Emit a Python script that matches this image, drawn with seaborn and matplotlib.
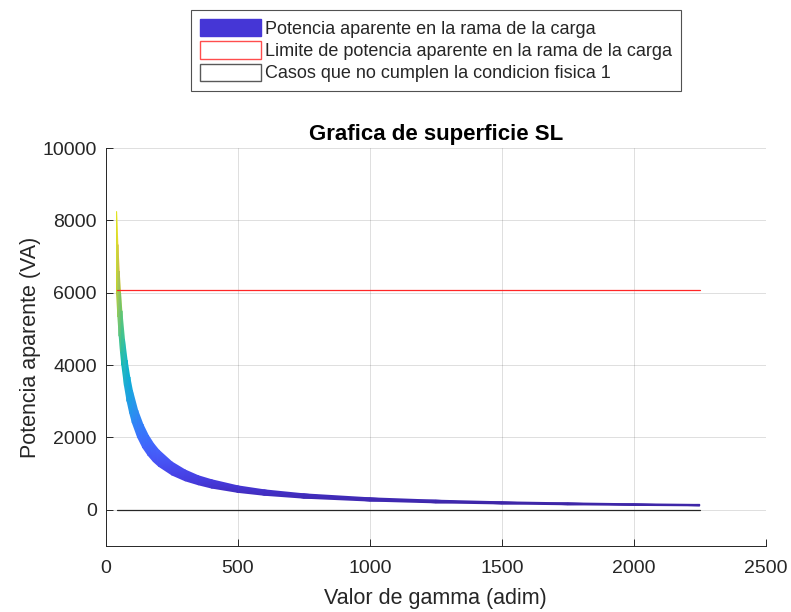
import numpy as np
import pandas as pd
import matplotlib
matplotlib.use("Agg")
import matplotlib.pyplot as plt
from matplotlib.colors import ListedColormap
from matplotlib.patches import Patch
import seaborn as sns

# ---- data ----
gamma = [40, 45, 50, 55, 60, 70, 80, 90, 100, 120, 140, 160, 180, 200, 250, 300,
         350, 400, 500, 600, 750, 1000, 1250, 1500, 1750, 2000, 2250]
s_upper = [8250, 7330, 6600, 6000, 5500, 4710, 4130, 3670, 3300, 2750, 2360, 2060,
           1830, 1650, 1320, 1100, 940, 830, 660, 550, 440, 330, 265, 220, 190, 165, 147]
s_lower = [6000, 5330, 4800, 4360, 4000, 3430, 3000, 2670, 2400, 2000, 1710, 1500,
           1330, 1200, 960, 800, 690, 600, 480, 400, 320, 240, 190, 160, 137, 120, 107]
limit_x = [40, 2250]
limit_y = [6070, 6070]
fail_x = [40, 2250]
fail_y = [0, 0]

title = "Grafica de superficie SL"
xlabel = "Valor de gamma (adim)"
ylabel = "Potencia aparente (VA)"
legend_labels = ["Potencia aparente en la rama de la carga",
                 "Limite de potencia aparente en la rama de la carga",
                 "Casos que no cumplen la condicion fisica 1"]
xticks = [0, 500, 1000, 1500, 2000, 2500]
yticks = [0, 2000, 4000, 6000, 8000, 10000]

parula_data = [
[0.2422,0.1504,0.6603],[0.2504,0.1650,0.7076],[0.2578,0.1818,0.7511],[0.2647,0.1978,0.7952],
[0.2706,0.2147,0.8364],[0.2751,0.2342,0.8710],[0.2783,0.2559,0.8991],[0.2803,0.2782,0.9221],
[0.2813,0.3006,0.9414],[0.2810,0.3228,0.9579],[0.2795,0.3447,0.9717],[0.2760,0.3667,0.9829],
[0.2699,0.3892,0.9906],[0.2602,0.4123,0.9952],[0.2440,0.4358,0.9988],[0.2206,0.4603,0.9973],
[0.1963,0.4847,0.9892],[0.1834,0.5074,0.9798],[0.1786,0.5289,0.9682],[0.1764,0.5499,0.9520],
[0.1687,0.5703,0.9359],[0.1540,0.5902,0.9218],[0.1460,0.6091,0.9079],[0.1380,0.6276,0.8973],
[0.1248,0.6459,0.8883],[0.1113,0.6635,0.8763],[0.0952,0.6798,0.8598],[0.0689,0.6948,0.8394],
[0.0297,0.7082,0.8163],[0.0036,0.7203,0.7917],[0.0067,0.7312,0.7660],[0.0433,0.7411,0.7394],
[0.0964,0.7500,0.7120],[0.1408,0.7584,0.6842],[0.1717,0.7670,0.6554],[0.1938,0.7758,0.6251],
[0.2161,0.7843,0.5923],[0.2470,0.7918,0.5567],[0.2906,0.7973,0.5188],[0.3406,0.8008,0.4789],
[0.3909,0.8029,0.4354],[0.4456,0.8024,0.3909],[0.5044,0.7993,0.3480],[0.5616,0.7942,0.3045],
[0.6174,0.7876,0.2612],[0.6720,0.7793,0.2227],[0.7242,0.7698,0.1910],[0.7738,0.7598,0.1646],
[0.8203,0.7498,0.1535],[0.8634,0.7406,0.1596],[0.9035,0.7330,0.1774],[0.9393,0.7288,0.2100],
[0.9728,0.7298,0.2394],[0.9956,0.7434,0.2371],[0.9970,0.7659,0.2199],[0.9952,0.7893,0.2028],
[0.9892,0.8136,0.1885],[0.9786,0.8386,0.1766],[0.9676,0.8639,0.1643],[0.9610,0.8890,0.1537],
[0.9597,0.9135,0.1423],[0.9628,0.9373,0.1265],[0.9691,0.9606,0.1064],[0.9769,0.9839,0.0805]]
parula = ListedColormap(parula_data, name="parula")

sns.set_theme(style="white")
plt.rcParams['font.family'] = ['Liberation Sans', 'DejaVu Sans']

fig = plt.figure(figsize=(7.91, 6.12), dpi=100)
ax = fig.add_axes([0.134, 0.108, 0.834, 0.650])

g = np.array(gamma, dtype=float)
X = np.vstack([g, g])
Y = np.vstack([np.array(s_lower, float), np.array(s_upper, float)])
ax.pcolormesh(X, Y, Y, cmap=parula, shading="gouraud",
              vmin=min(s_lower), vmax=max(s_upper), zorder=3, antialiased=True)

df_lim = pd.DataFrame({"x": limit_x, "y": limit_y})
df_fail = pd.DataFrame({"x": fail_x, "y": fail_y})
sns.lineplot(data=df_lim, x="x", y="y", color=(1.0, 0.15, 0.15), lw=0.9, ax=ax, zorder=4)
sns.lineplot(data=df_fail, x="x", y="y", color=(0.15, 0.15, 0.15), lw=0.9, ax=ax, zorder=4)

dark = (0.15, 0.15, 0.15)
ax.set_xlim(0, 2500)
ax.set_ylim(-1000, 10000)
ax.set_xticks(xticks)
ax.set_yticks(yticks)
ax.grid(True, color=dark, alpha=0.15, lw=0.7)
ax.set_axisbelow(True)
for s in ["top", "right"]:
    ax.spines[s].set_visible(False)
for s in ["left", "bottom"]:
    ax.spines[s].set_color(dark)
    ax.spines[s].set_linewidth(0.7)
ax.tick_params(direction="in", length=5, width=0.7, color=dark,
               labelsize=14, labelcolor=dark, left=True, bottom=True)
ax.tick_params(axis="x", pad=10)
ax.tick_params(axis="y", pad=6.5)
ax.set_xlabel(xlabel, fontsize=15.5, color=dark, labelpad=8)
ax.set_ylabel(ylabel, fontsize=15.5, color=dark, labelpad=1)
ax.set_title(title, fontsize=16, fontweight="bold", color="black", pad=6)

handles = [Patch(facecolor=(0.27, 0.21, 0.84), edgecolor=(0.27, 0.21, 0.84)),
           Patch(facecolor="white", edgecolor=(1.0, 0.3, 0.3)),
           Patch(facecolor="white", edgecolor=(0.35, 0.35, 0.35))]
leg = fig.legend(handles, legend_labels, loc="upper center", bbox_to_anchor=(0.5512, 0.984),
                 fontsize=13, frameon=True, fancybox=False, edgecolor=dark,
                 handlelength=3.4, handleheight=1.1, handletextpad=0.2, labelspacing=0.2,
                 borderpad=0.5, borderaxespad=0)
leg.get_frame().set_linewidth(0.8)

fig.savefig("out.png", dpi=100, facecolor="white")
